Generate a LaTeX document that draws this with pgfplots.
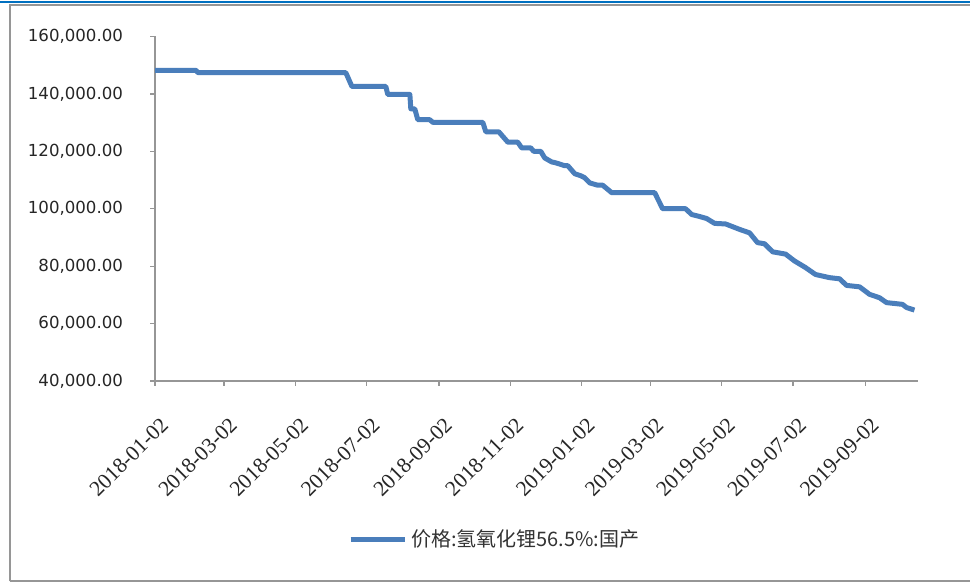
\documentclass[border=0pt]{standalone}
\usepackage{pgfplots}
\pgfplotsset{compat=1.18}
\usepackage{fontspec}
\setmainfont{Liberation Serif}
\setsansfont{DejaVu Sans}
\newfontfamily\cjk{Noto Sans CJK SC}
\definecolor{serie}{RGB}{74,126,187}
\definecolor{frame}{RGB}{150,150,150}
\definecolor{topblue}{RGB}{0,112,192}
\begin{document}
\begin{tikzpicture}
\useasboundingbox (0,0) rectangle (485pt,291.5pt);
\fill[white] (0,0) rectangle (485pt,291.5pt);
\draw[topblue,line width=1.2pt] (0,290.6pt) -- (485pt,290.6pt);
\draw[frame,line width=1pt] (5pt,0.75pt) -- (5pt,289pt) -- (485pt,289pt);
\draw[frame,line width=1pt] (5pt,0.75pt) -- (485pt,0.75pt);
\begin{axis}[
  at={(77.5pt,101pt)}, anchor=south west,
  scale only axis, width=381.25pt, height=172.25pt,
  xmin=0, xmax=652.5, ymin=40000, ymax=160000,
  axis x line*=bottom, axis y line*=left,
  axis line style={frame, line width=0.6pt, -},
  tick style={frame, line width=0.6pt},
  tick align=outside, major tick length=2.5pt,
  ytick={40000,60000,80000,100000,120000,140000,160000},
  scaled y ticks=false,
  yticklabel style={/tikz/font=\fontsize{8.3}{10}\sffamily, /tikz/text=black!85, /tikz/xshift=-10pt,
    /pgf/number format/fixed, /pgf/number format/fixed zerofill,
    /pgf/number format/precision=2, /pgf/number format/1000 sep={,},
    /pgf/number format/assume math mode=true},
  xtick={0,59,120,181,243,304,365,424,485,546,608},
  xticklabels={2018-01-02,2018-03-02,2018-05-02,2018-07-02,2018-09-02,2018-11-02,2019-01-02,2019-03-02,2019-05-02,2019-07-02,2019-09-02},
  xticklabel style={rotate=45, anchor=north east, font=\fontsize{10.8}{13}\rmfamily, text=black!85, inner sep=1pt, xshift=-8pt, yshift=-11pt},
  legend style={at={(0.447,-0.4615)}, anchor=center, draw=none, fill=none, font=\fontsize{10}{12}\cjk, text=black!80},
  legend image code/.code={\draw[#1] (0pt,0pt) -- (27pt,0pt);},
]
\addplot[serie, line width=2.5pt, line join=round] coordinates {
(0,148200) (35.06,148200) (36.77,147400) (163.3,147400) (168.5,142600)
(197.5,142600) (199.2,139800) (218.1,139800) (218.9,134800) (222.3,134800)
(224.9,131000) (235.2,131000) (237.7,130100) (280.5,130100) (283.1,126800)
(294.2,126800) (301.9,123200) (310.4,123200) (313.8,121200) (321.5,121200)
(324.1,120000) (330.1,120000) (333.5,117700) (339.5,116300) (342.9,116000)
(350.6,115000) (353.2,115000) (359.2,112200) (364.3,111500) (367.7,110800)
(372.0,109000) (378.8,108200) (383.1,108200) (390.8,105600) (427.6,105600)
(434.4,100000) (454.1,100000) (459.2,98000) (466.0,97300) (472.0,96600)
(478.9,94900) (488.3,94700) (500.3,92800) (508.8,91600) (515.6,88200)
(521.6,87800) (528.5,85000) (539.6,84200) (547.3,81800) (556.7,79500)
(565.2,77100) (577.2,76000) (585.8,75600) (591.8,73300) (602.9,72800)
(611.4,70200) (620.0,69000) (626.0,67300) (639.6,66700) (643.1,65600)
(649.9,64700)
};
\addlegendentry{价格:氢氧化锂56.5\%:国产}
\end{axis}
\end{tikzpicture}
\end{document}
